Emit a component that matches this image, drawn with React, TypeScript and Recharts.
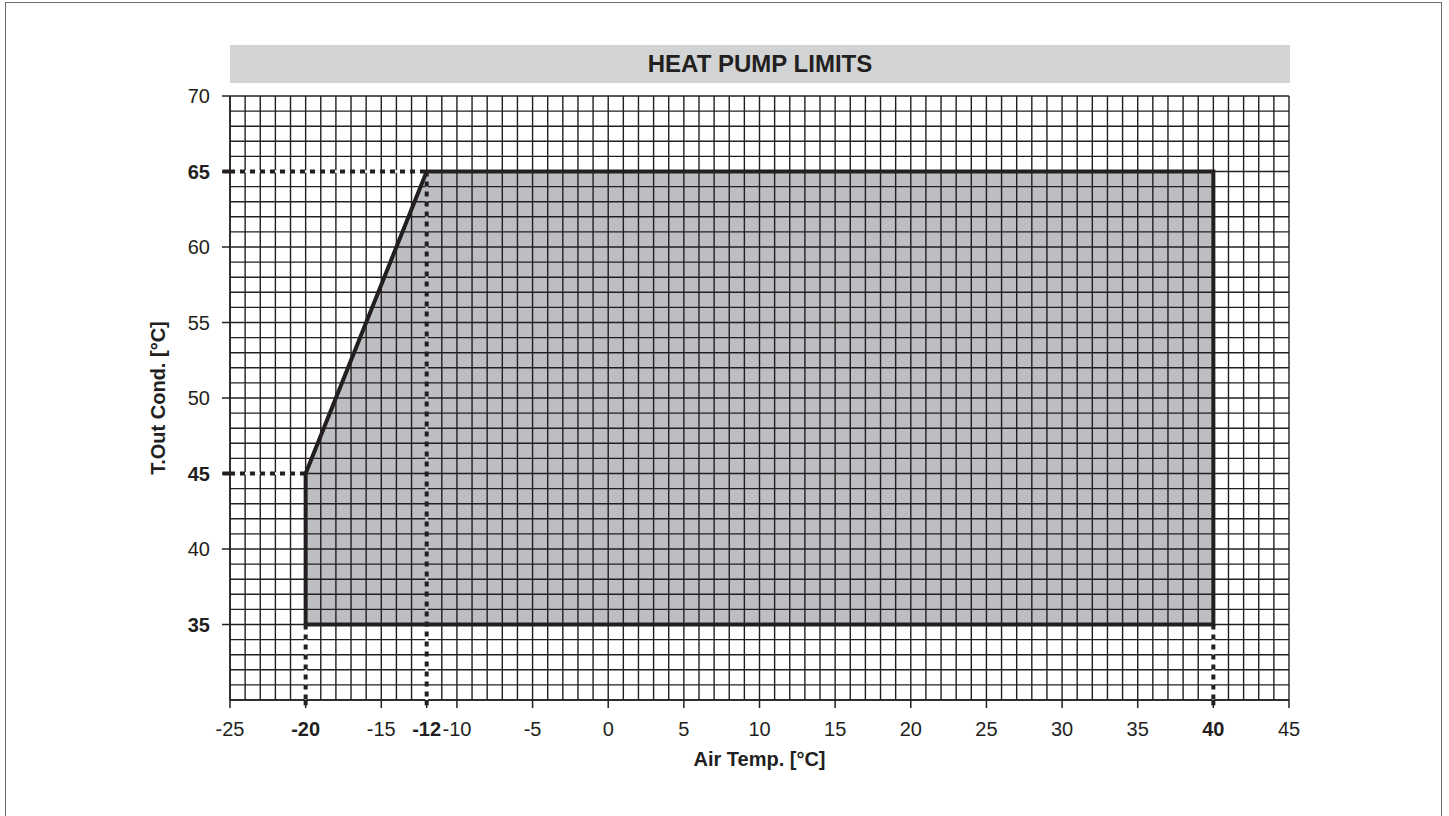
import React from "react";
import {
  ComposedChart,
  XAxis,
  YAxis,
  CartesianGrid,
  Area,
  Line,
  ReferenceLine,
  Label,
} from "recharts";

// ---- data ----
const xTicks = [-25, -20, -15, -12, -10, -5, 0, 5, 10, 15, 20, 25, 30, 35, 40, 45];
const xBoldTicks = [-20, -12, 40];
const yTicks = [35, 40, 45, 50, 55, 60, 65, 70];
const yBoldTicks = [35, 45, 65];
const xDomain = [-25, 45];
const yDomain = [30, 70];
const gridXValues = Array.from({ length: 71 }, (_, i) => -25 + i);
const gridYValues = Array.from({ length: 41 }, (_, i) => 30 + i);

const envelopeBase = 35;
const envelopeTop = [
  { x: -20, y: 45 },
  { x: -12, y: 65 },
  { x: 40, y: 65 },
];
const envelopeOutline = [
  { x: -20, y: 35 },
  { x: -20, y: 45 },
  { x: -12, y: 65 },
  { x: 40, y: 65 },
  { x: 40, y: 35 },
  { x: -20, y: 35 },
];
// dotted guide lines (inside the plot)
const guide65 = [
  { x: -25, y: 65 },
  { x: -12, y: 65 },
];
const guide45 = [
  { x: -25, y: 45 },
  { x: -20, y: 45 },
];
const guideMinus20 = [
  { x: -20, y: 35 },
  { x: -20, y: 30 },
];
const guideMinus12 = [
  { x: -12, y: 65 },
  { x: -12, y: 30 },
];
const guide40 = [
  { x: 40, y: 35 },
  { x: 40, y: 30 },
];
const insideGuides = [guide65, guide45, guideMinus20, guideMinus12, guide40];
// the grid line under a guide is hidden: the gaps of the dots show the background
const guideMinus12InFill = [
  { x: -12, y: 65 },
  { x: -12, y: 35 },
];
const guideMinus12Below = [
  { x: -12, y: 35 },
  { x: -12, y: 30 },
];
const erasersOnWhite = [guide65, guide45, guideMinus20, guideMinus12Below, guide40];
const erasersOnFill = [guideMinus12InFill];
// small stubs of the guides that reach past the axes
const stubStartX = -25.5;
const stubBottomY = 29.65;
const horizontalStubs = [65, 45];
const verticalStubs = [-20, -12, 40];

const TITLE = "HEAT PUMP LIMITS";
const X_LABEL = "Air Temp. [°C]";
const Y_LABEL = "T.Out Cond. [°C]";

const INK = "#231f20";
const FILL = "#bdbec1";
const FONT = "'Liberation Sans', Arial, Helvetica, sans-serif";
const DASH = "5 5";
const DASH_W = 4;

const XTick = (props: any) => {
  const { x, y, payload } = props;
  const bold = xBoldTicks.includes(payload.value);
  return (
    <text
      x={x}
      y={y}
      dy="0.71em"
      textAnchor="middle"
      fontFamily={FONT}
      fontSize={20}
      fontWeight={bold ? 700 : 400}
      fill={INK}
    >
      {payload.value}
    </text>
  );
};

const YTick = (props: any) => {
  const { x, y, payload } = props;
  const bold = yBoldTicks.includes(payload.value);
  return (
    <text
      x={x}
      y={y}
      dy="0.355em"
      textAnchor="end"
      fontFamily={FONT}
      fontSize={20}
      fontWeight={bold ? 700 : 400}
      fill={INK}
    >
      {payload.value}
    </text>
  );
};

export default function App() {
  const W = 1449;
  const H = 816;
  return (
    <div
      style={{
        position: "absolute",
        left: 0,
        top: 0,
        width: W,
        height: H,
        overflow: "hidden",
        background: "#fff",
        fontFamily: FONT,
      }}
    >
      <div
        style={{
          position: "absolute",
          left: 5,
          top: 2,
          width: 1435,
          height: 840,
          border: "1.5px solid #6d6e71",
        }}
      />
      <div
        style={{
          position: "absolute",
          left: 230,
          top: 45,
          width: 1060,
          height: 38,
          background: "#d1d3d4",
          display: "flex",
          alignItems: "center",
          justifyContent: "center",
          fontWeight: 700,
          fontSize: 24,
          color: INK,
        }}
      >
        {TITLE}
      </div>
      <div style={{ position: "absolute", left: 0, top: 0 }}>
        <ComposedChart
          width={W}
          height={H}
          margin={{ top: 96, right: 160, bottom: 36, left: 86 }}
        >
          <XAxis
            type="number"
            dataKey="x"
            domain={xDomain}
            ticks={xTicks}
            interval={0}
            allowDataOverflow
            height={80}
            tickSize={8}
            tickMargin={14}
            tick={<XTick />}
            stroke={INK}
            axisLine={{ stroke: INK, strokeWidth: 1.5 }}
            tickLine={{ stroke: INK, strokeWidth: 1.5 }}
          >
            <Label
              value={X_LABEL}
              position="insideBottom"
              offset={14}
              fontFamily={FONT}
              fontSize={20}
              fontWeight={700}
              fill={INK}
            />
          </XAxis>
          <YAxis
            type="number"
            domain={yDomain}
            ticks={yTicks}
            interval={0}
            allowDataOverflow
            width={144}
            tickSize={8}
            tickMargin={12}
            tick={<YTick />}
            stroke={INK}
            axisLine={{ stroke: INK, strokeWidth: 1.5 }}
            tickLine={{ stroke: INK, strokeWidth: 1.5 }}
          >
            <Label
              value={Y_LABEL}
              angle={-90}
              position="center"
              fontFamily={FONT}
              fontSize={20}
              fontWeight={700}
              fill={INK}
            />
          </YAxis>
          <Area
            data={envelopeTop}
            dataKey="y"
            baseValue={envelopeBase}
            type="linear"
            stroke="none"
            fill={FILL}
            fillOpacity={1}
            zIndex={100}
            isAnimationActive={false}
          />
          <CartesianGrid
            stroke={INK}
            strokeWidth={1.4}
            zIndex={150}
            verticalCoordinatesGenerator={(p: any) => {
              const s = p?.xAxis?.scale;
              if (s && typeof s === "function") return gridXValues.map((v) => s(v));
              const o = p.offset;
              return gridXValues.map(
                (v) => o.left + ((v - xDomain[0]) / (xDomain[1] - xDomain[0])) * o.width
              );
            }}
            horizontalCoordinatesGenerator={(p: any) => {
              const s = p?.yAxis?.scale;
              if (s && typeof s === "function") return gridYValues.map((v) => s(v));
              const o = p.offset;
              return gridYValues.map(
                (v) => o.top + ((yDomain[1] - v) / (yDomain[1] - yDomain[0])) * o.height
              );
            }}
          />
          {horizontalStubs.map((y, i) => (
            <ReferenceLine
              key={"hs" + i}
              segment={[
                { x: stubStartX, y },
                { x: xDomain[0], y },
              ]}
              ifOverflow="visible"
              stroke={INK}
              strokeWidth={DASH_W}
            />
          ))}
          {verticalStubs.map((x, i) => (
            <ReferenceLine
              key={"vs" + i}
              segment={[
                { x, y: yDomain[0] },
                { x, y: stubBottomY },
              ]}
              ifOverflow="visible"
              stroke={INK}
              strokeWidth={DASH_W}
            />
          ))}
          {erasersOnWhite.map((g, i) => (
            <Line
              key={"ew" + i}
              data={g}
              dataKey="y"
              type="linear"
              stroke="#ffffff"
              strokeWidth={2.6}
              dot={false}
              activeDot={false}
              legendType="none"
              zIndex={650}
              isAnimationActive={false}
            />
          ))}
          {erasersOnFill.map((g, i) => (
            <Line
              key={"ef" + i}
              data={g}
              dataKey="y"
              type="linear"
              stroke={FILL}
              strokeWidth={2.6}
              dot={false}
              activeDot={false}
              legendType="none"
              zIndex={650}
              isAnimationActive={false}
            />
          ))}
          {insideGuides.map((g, i) => (
            <Line
              key={"g" + i}
              data={g}
              dataKey="y"
              type="linear"
              stroke={INK}
              strokeWidth={DASH_W}
              strokeDasharray={DASH}
              dot={false}
              activeDot={false}
              legendType="none"
              zIndex={700}
              isAnimationActive={false}
            />
          ))}
          <Line
            data={envelopeOutline}
            dataKey="y"
            type="linear"
            stroke={INK}
            strokeWidth={4}
            dot={false}
            activeDot={false}
            strokeLinejoin="miter"
            zIndex={800}
            isAnimationActive={false}
          />
        </ComposedChart>
      </div>
    </div>
  );
}
